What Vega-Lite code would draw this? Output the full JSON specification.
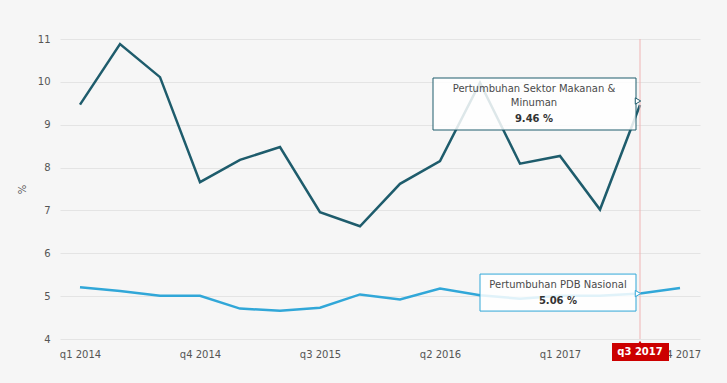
{
  "$schema": "https://vega.github.io/schema/vega-lite/v6.json",
  "autosize": "none",
  "width": 640,
  "height": 300,
  "padding": {"left": 60, "top": 39, "right": 27, "bottom": 44},
  "background": "#f6f6f6",
  "config": {
    "view": {"stroke": null},
    "font": "DejaVu Sans",
    "axis": {"labelFont": "DejaVu Sans", "titleFont": "DejaVu Sans"}
  },
  "data": {
    "values": [
      {"quarter": "q1 2014", "series": "Pertumbuhan Sektor Makanan & Minuman", "value": 9.47},
      {"quarter": "q2 2014", "series": "Pertumbuhan Sektor Makanan & Minuman", "value": 10.88},
      {"quarter": "q3 2014", "series": "Pertumbuhan Sektor Makanan & Minuman", "value": 10.11},
      {"quarter": "q4 2014", "series": "Pertumbuhan Sektor Makanan & Minuman", "value": 7.66},
      {"quarter": "q1 2015", "series": "Pertumbuhan Sektor Makanan & Minuman", "value": 8.18},
      {"quarter": "q2 2015", "series": "Pertumbuhan Sektor Makanan & Minuman", "value": 8.48},
      {"quarter": "q3 2015", "series": "Pertumbuhan Sektor Makanan & Minuman", "value": 6.96},
      {"quarter": "q4 2015", "series": "Pertumbuhan Sektor Makanan & Minuman", "value": 6.63},
      {"quarter": "q1 2016", "series": "Pertumbuhan Sektor Makanan & Minuman", "value": 7.62},
      {"quarter": "q2 2016", "series": "Pertumbuhan Sektor Makanan & Minuman", "value": 8.15},
      {"quarter": "q3 2016", "series": "Pertumbuhan Sektor Makanan & Minuman", "value": 9.98},
      {"quarter": "q4 2016", "series": "Pertumbuhan Sektor Makanan & Minuman", "value": 8.09},
      {"quarter": "q1 2017", "series": "Pertumbuhan Sektor Makanan & Minuman", "value": 8.27},
      {"quarter": "q2 2017", "series": "Pertumbuhan Sektor Makanan & Minuman", "value": 7.02},
      {"quarter": "q3 2017", "series": "Pertumbuhan Sektor Makanan & Minuman", "value": 9.46},
      {"quarter": "q1 2014", "series": "Pertumbuhan PDB Nasional", "value": 5.21},
      {"quarter": "q2 2014", "series": "Pertumbuhan PDB Nasional", "value": 5.12},
      {"quarter": "q3 2014", "series": "Pertumbuhan PDB Nasional", "value": 5.01},
      {"quarter": "q4 2014", "series": "Pertumbuhan PDB Nasional", "value": 5.01},
      {"quarter": "q1 2015", "series": "Pertumbuhan PDB Nasional", "value": 4.71},
      {"quarter": "q2 2015", "series": "Pertumbuhan PDB Nasional", "value": 4.66},
      {"quarter": "q3 2015", "series": "Pertumbuhan PDB Nasional", "value": 4.73},
      {"quarter": "q4 2015", "series": "Pertumbuhan PDB Nasional", "value": 5.04},
      {"quarter": "q1 2016", "series": "Pertumbuhan PDB Nasional", "value": 4.92},
      {"quarter": "q2 2016", "series": "Pertumbuhan PDB Nasional", "value": 5.18},
      {"quarter": "q3 2016", "series": "Pertumbuhan PDB Nasional", "value": 5.02},
      {"quarter": "q4 2016", "series": "Pertumbuhan PDB Nasional", "value": 4.94},
      {"quarter": "q1 2017", "series": "Pertumbuhan PDB Nasional", "value": 5.01},
      {"quarter": "q2 2017", "series": "Pertumbuhan PDB Nasional", "value": 5.01},
      {"quarter": "q3 2017", "series": "Pertumbuhan PDB Nasional", "value": 5.06},
      {"quarter": "q4 2017", "series": "Pertumbuhan PDB Nasional", "value": 5.19}
    ]
  },
  "encoding": {
    "x": {
      "field": "quarter",
      "type": "ordinal",
      "sort": null,
      "scale": {"type": "point", "padding": 0.5},
      "axis": {
        "title": null,
        "values": ["q1 2014", "q4 2014", "q3 2015", "q2 2016", "q1 2017", "q4 2017"],
        "labelAngle": 0,
        "labelFontSize": 10,
        "labelColor": "#555555",
        "labelPadding": 10,
        "ticks": false,
        "domain": false,
        "grid": false
      }
    },
    "y": {
      "field": "value",
      "type": "quantitative",
      "scale": {"domain": [4, 11], "nice": false, "zero": false},
      "axis": {
        "title": "%",
        "titleFontSize": 10,
        "titleFontWeight": "normal",
        "titleColor": "#555555",
        "titlePadding": 10,
        "values": [4, 5, 6, 7, 8, 9, 10, 11],
        "labelFontSize": 10,
        "labelColor": "#555555",
        "labelPadding": 10,
        "ticks": false,
        "domain": false,
        "gridColor": "#e4e4e4",
        "gridWidth": 1
      }
    }
  },
  "layer": [
    {
      "mark": {"type": "line", "strokeWidth": 2.5, "strokeJoin": "miter"},
      "encoding": {
        "color": {
          "field": "series",
          "type": "nominal",
          "scale": {
            "domain": ["Pertumbuhan Sektor Makanan & Minuman", "Pertumbuhan PDB Nasional"],
            "range": ["#1e5c6c", "#31a7d8"]
          },
          "legend": null
        }
      }
    },
    {
      "transform": [{"filter": "datum.quarter === 'q3 2017' && datum.series === 'Pertumbuhan PDB Nasional'"}],
      "mark": {"type": "rule", "color": "#f0b4b4", "strokeWidth": 1},
      "encoding": {"y": {"datum": 11, "type": "quantitative"}, "y2": {"datum": 4}}
    },
    {
      "transform": [{"filter": "datum.quarter === 'q3 2017' && datum.series === 'Pertumbuhan Sektor Makanan & Minuman'"}],
      "layer": [
        {
          "mark": {"type": "rect", "width": 203, "height": 52, "xOffset": -105.5, "yOffset": -1, "fill": "#ffffff", "fillOpacity": 0.85, "stroke": "#1e5c6c", "strokeWidth": 1}
        },
        {
          "mark": {"type": "point", "shape": "triangle-right", "size": 40, "filled": true, "fill": "#ffffff", "stroke": "#1e5c6c", "strokeWidth": 1, "opacity": 1, "xOffset": -2, "yOffset": -4}
        },
        {
          "mark": {"type": "text", "text": ["Pertumbuhan Sektor Makanan &", "Minuman"], "fontSize": 10, "color": "#4a4a4a", "baseline": "middle", "lineHeight": 14, "dx": -106, "dy": -16}
        },
        {
          "transform": [{"calculate": "format(datum.value, '.2f') + ' %'", "as": "label"}],
          "mark": {"type": "text", "fontSize": 10, "fontWeight": "bold", "color": "#333333", "baseline": "middle", "dx": -106, "dy": 14},
          "encoding": {"text": {"field": "label"}}
        }
      ]
    },
    {
      "transform": [{"filter": "datum.quarter === 'q3 2017' && datum.series === 'Pertumbuhan PDB Nasional'"}],
      "layer": [
        {
          "mark": {"type": "rect", "width": 156, "height": 37, "xOffset": -82, "yOffset": -1, "fill": "#ffffff", "fillOpacity": 0.85, "stroke": "#31a7d8", "strokeWidth": 1}
        },
        {
          "mark": {"type": "point", "shape": "triangle-right", "size": 40, "filled": true, "fill": "#ffffff", "stroke": "#31a7d8", "strokeWidth": 1, "opacity": 1, "xOffset": -2}
        },
        {
          "mark": {"type": "text", "text": "Pertumbuhan PDB Nasional", "fontSize": 10, "color": "#4a4a4a", "baseline": "middle", "dx": -82, "dy": -9}
        },
        {
          "transform": [{"calculate": "format(datum.value, '.2f') + ' %'", "as": "label"}],
          "mark": {"type": "text", "fontSize": 10, "fontWeight": "bold", "color": "#333333", "baseline": "middle", "dx": -82, "dy": 7},
          "encoding": {"text": {"field": "label"}}
        },
        {
          "mark": {"type": "point", "shape": "triangle-up", "size": 30, "filled": true, "fill": "#cc0000", "opacity": 1, "yOffset": 4},
          "encoding": {"y": {"datum": 4, "type": "quantitative"}}
        },
        {
          "mark": {"type": "rect", "width": 57, "height": 18, "xOffset": 0.5, "yOffset": 13, "fill": "#cc0000"},
          "encoding": {"y": {"datum": 4, "type": "quantitative"}}
        },
        {
          "mark": {"type": "text", "fontSize": 10, "fontWeight": "bold", "color": "#ffffff", "baseline": "middle", "yOffset": 13},
          "encoding": {"y": {"datum": 4, "type": "quantitative"}, "text": {"field": "quarter"}}
        }
      ]
    }
  ]
}
